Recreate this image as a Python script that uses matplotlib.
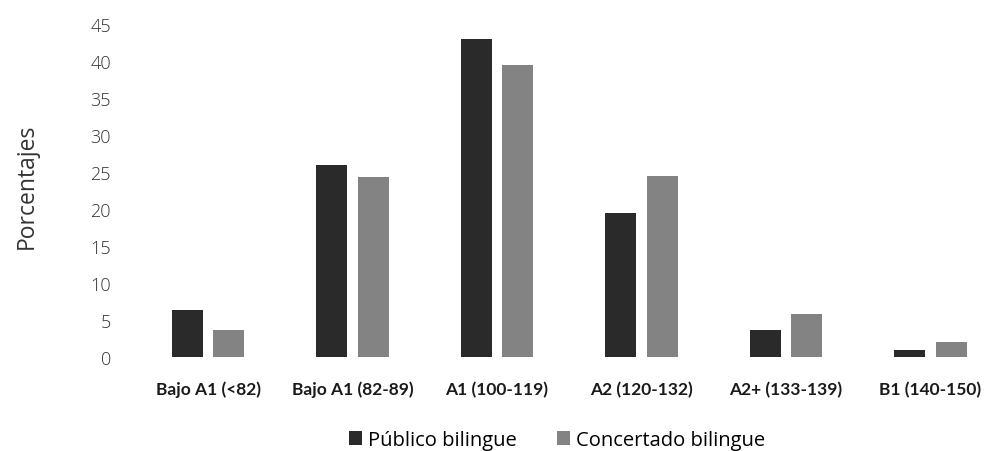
import matplotlib
matplotlib.use("Agg")
import matplotlib.pyplot as plt
import numpy as np

categories = ["Bajo A1 (<82)", "Bajo A1 (82-89)", "A1 (100-119)", "A2 (120-132)",
              "A2+ (133-139)", "B1 (140-150)"]
publico = [6.4, 26.0, 43.0, 19.5, 3.6, 1.0]
concertado = [3.6, 24.3, 39.5, 24.4, 5.8, 2.0]
series_names = ["Público bilingue", "Concertado bilingue"]
yticks = [0, 5, 10, 15, 20, 25, 30, 35, 40, 45]

W, H = 988, 452
fig = plt.figure(figsize=(W / 100, H / 100), dpi=100)
left_px, right_px = 135.75, 135.75 + 5.85 * 144.5
bottom_px, top_px = 358, 25
ax = fig.add_axes([left_px / W, (H - bottom_px) / H,
                   (right_px - left_px) / W, (bottom_px - top_px) / H])

x = np.arange(len(categories))
bw = 0.215
off = 0.145
ax.bar(x - off, publico, bw, color="#2a2a2a", label=series_names[0])
ax.bar(x + off, concertado, bw, color="#838383", label=series_names[1])

ax.set_xlim(-0.5, 5.35)
ax.set_ylim(0, 45)
ax.set_yticks(yticks)
ax.set_xticks(x)
ax.set_xticklabels(categories, fontfamily="Lato", fontweight="bold", fontsize=12.5,
                   color="#1a1a1a")
ax.tick_params(axis="x", length=0, pad=17)
ax.tick_params(axis="y", length=0, pad=18, labelsize=13, labelcolor="#333333")
for lab in ax.get_yticklabels():
    lab.set_fontfamily("Open Sans")
    lab.set_fontweight("light")
for s in ax.spines.values():
    s.set_visible(False)

fig.text(27 / W, 1 - 186 / H, "Porcentajes", rotation=90, ha="center", va="center",
         fontsize=16.5, fontfamily="Open Sans", color="#333333")

fig.legend(loc="center", bbox_to_anchor=(557 / W, 1 - 441 / H), ncol=2, frameon=False,
           handlelength=0.65, handleheight=0.65, handletextpad=0.3, columnspacing=2.0,
           prop={"family": "Open Sans", "size": 14.5})

fig.savefig("out.png", dpi=100)
